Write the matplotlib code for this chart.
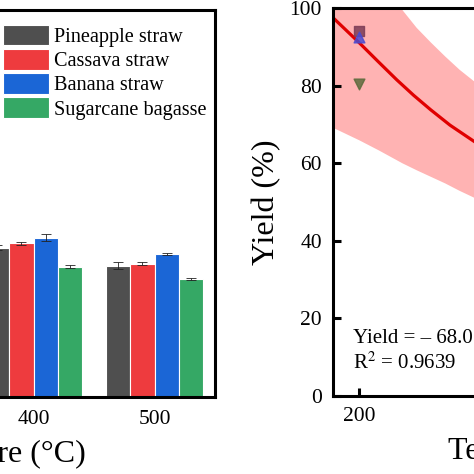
import matplotlib
matplotlib.use('Agg')
import matplotlib.pyplot as plt
import numpy as np

plt.rcParams['font.family'] = ['Liberation Serif', 'DejaVu Serif']
plt.rcParams['mathtext.fontset'] = 'stix'

# left panel: char yield by temperature
temps = ['200', '300', '400', '500']
bar_pos = [2, 3]                      # only the 400 / 500 groups are in frame
species = ['Pineapple straw', 'Cassava straw', 'Banana straw', 'Sugarcane bagasse']
colors = ['#4f4f4f', '#ee3b3e', '#1b66d6', '#35a865']
yield_400 = [38.6, 39.7, 41.2, 33.7]
yield_500 = [33.9, 34.5, 37.0, 30.5]
err_400 = [0.6, 0.4, 0.8, 0.3]
err_500 = [0.9, 0.4, 0.3, 0.3]

# right panel: yield vs temperature with fit and band
pt_temp = [200, 200, 200]
pt_yield = [94.1, 92.4, 80.5]
pt_marker = ['s', '^', 'v']
pt_color = ['#7b3b55', '#4b4bd0', '#5d6a3c']
fit_T = [180, 200, 215, 229, 242, 255, 270, 289]
fit_Y = [97.5, 91.1, 86.1, 81.5, 77.5, 73.8, 69.8, 65.5]
band_T = [180, 200, 215, 233, 244, 255, 266, 277, 289]
band_hi = [130.0, 118.0, 108.0, 99.6, 95.0, 91.2, 87.6, 84.2, 81.0]
band_lo = [69.2, 66.0, 63.4, 60.1, 58.3, 56.6, 54.9, 53.0, 51.1]

fig = plt.figure(figsize=(4.74, 4.74), dpi=100)

ax1 = fig.add_axes([-0.5675, 0.1624, 1.0211, 0.8165])
w = 0.2
for i in range(4):
    x = np.array(bar_pos) + (i - 1.5) * w
    ax1.bar(x, [yield_400[i], yield_500[i]], w, color=colors[i],
            edgecolor='white', linewidth=0.8, label=species[i],
            yerr=[err_400[i], err_500[i]], capsize=3.5,
            error_kw=dict(ecolor='#222222', elinewidth=0.6, capthick=0.6))
ax1.set_xlim(-0.5, 3.5)
ax1.set_ylim(0, 100)
ax1.set_xticks(range(4))
ax1.set_xticklabels(temps)
ax1.tick_params(axis='x', length=0, pad=9, labelsize=15.5)
ax1.tick_params(axis='y', direction='in', length=5, width=2.2, labelsize=15.5)
ax1.set_xlabel('Temperature (°C)', fontsize=23, labelpad=8)
for s in ax1.spines.values():
    s.set_linewidth(2.2)
ax1.legend(loc='upper left', bbox_to_anchor=(0.562, 0.962), frameon=False,
           fontsize=14.6, borderpad=0, borderaxespad=0, handlelength=2.25,
           handleheight=1.2, labelspacing=0.1, handletextpad=0.25)

ax2 = fig.add_axes([0.7025, 0.1646, 0.960, 0.8186])
ax2.fill_between(band_T, band_lo, band_hi, color='#ffb3b3', linewidth=0, zorder=1)
ax2.plot(fit_T, fit_Y, color='#e00000', linewidth=2.3, zorder=2)
for t, y, m, c in zip(pt_temp, pt_yield, pt_marker, pt_color):
    ax2.scatter(t, y, marker=m, s=60, color=c, alpha=0.85, zorder=3)
ax2.set_xlim(180, 530)
ax2.set_ylim(0, 100)
ax2.set_xticks([200, 300, 400, 500])
ax2.set_yticks([0, 20, 40, 60, 80, 100])
ax2.tick_params(direction='in', length=6, width=2.2, labelsize=15.5, pad=8)
ax2.set_xlabel('Temperature (°C)', fontsize=23, labelpad=8)
ax2.set_ylabel('Yield (%)', fontsize=23, labelpad=6)
for s in ax2.spines.values():
    s.set_linewidth(2.2)
ax2.text(0.044, 0.056, 'Yield = – 68.0\nR$^2$ = 0.9639', transform=ax2.transAxes,
         fontsize=15, linespacing=1.3, va='bottom', ha='left')

fig.savefig('out.png', dpi=100)
